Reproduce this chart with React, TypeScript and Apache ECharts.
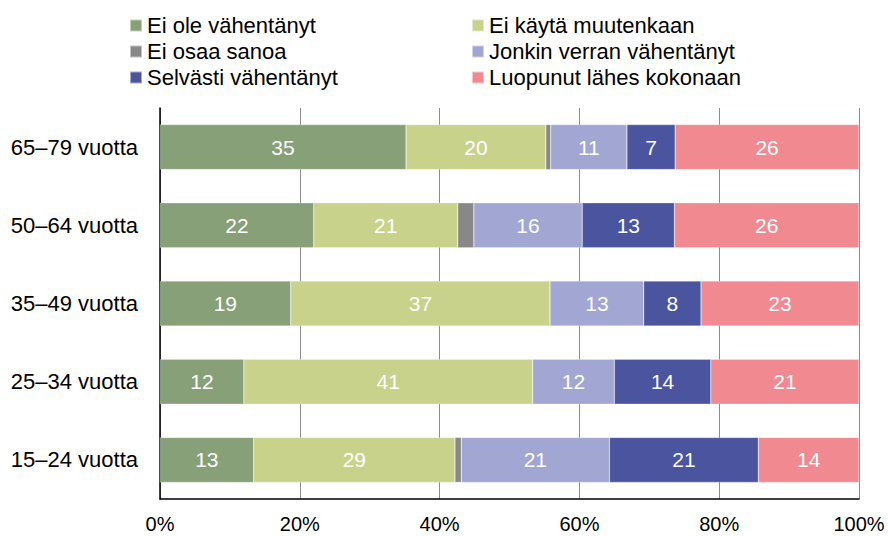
import React, { useEffect, useRef } from "react";
import * as echarts from "echarts";

const categories = ["15–24 vuotta", "25–34 vuotta", "35–49 vuotta", "50–64 vuotta", "65–79 vuotta"];
const seriesNames = [
  "Ei ole vähentänyt",
  "Ei käytä muutenkaan",
  "Ei osaa sanoa",
  "Jonkin verran vähentänyt",
  "Selvästi vähentänyt",
  "Luopunut lähes kokonaan",
];
const eiOleVahentanyt = [13.4, 12.0, 18.7, 22.0, 35.2];
const eiKaytaMuutenkaan = [28.8, 41.3, 37.1, 20.6, 20.0];
const eiOsaaSanoa = [0.9, 0, 0, 2.3, 0.7];
const jonkinVerranVahentanyt = [21.2, 11.7, 13.4, 15.5, 10.9];
const selvastiVahentanyt = [21.3, 13.8, 8.2, 13.2, 6.9];
const luopunutLahesKokonaan = [14.4, 21.2, 22.6, 26.4, 26.3];
const xTicks = [0, 20, 40, 60, 80, 100];

const seriesData = [
  eiOleVahentanyt,
  eiKaytaMuutenkaan,
  eiOsaaSanoa,
  jonkinVerranVahentanyt,
  selvastiVahentanyt,
  luopunutLahesKokonaan,
];
const colors = ["#87A077", "#C8D28A", "#888888", "#A2A6D2", "#4A549F", "#F08A90"];

export default function App() {
  const ref = useRef<HTMLDivElement>(null);
  useEffect(() => {
    if (!ref.current) return;
    const chart = echarts.init(ref.current, undefined, { renderer: "svg" });
    const font = "Liberation Sans, Arial, sans-serif";
    const legendBase = {
      orient: "vertical" as const,
      top: 9,
      itemWidth: 12,
      itemHeight: 12,
      itemGap: 3,
      icon: "rect",
      selectedMode: false,
      textStyle: { fontFamily: font, fontSize: 22, color: "#000", lineHeight: 23 },
    };
    chart.setOption({
      animation: false,
      color: colors,
      legend: [
        { ...legendBase, left: 124, data: [seriesNames[0], seriesNames[2], seriesNames[4]] },
        { ...legendBase, left: 466, data: [seriesNames[1], seriesNames[3], seriesNames[5]] },
      ],
      grid: { left: 160, right: 29, top: 108, bottom: 37, containLabel: false },
      xAxis: {
        type: "value",
        min: xTicks[0],
        max: xTicks[xTicks.length - 1],
        interval: 20,
        axisLine: { show: true, lineStyle: { color: "#000", width: 1.5 } },
        axisTick: { show: false },
        splitLine: { show: true, lineStyle: { color: "#8c8c8c", width: 1 } },
        axisLabel: {
          formatter: "{value}%",
          fontFamily: font,
          fontSize: 20,
          color: "#000",
          margin: 15,
        },
      },
      yAxis: {
        type: "category",
        data: categories,
        axisLine: { show: true, lineStyle: { color: "#000", width: 1.5 } },
        axisTick: { show: false },
        axisLabel: { fontFamily: font, fontSize: 22, color: "#000", margin: 22 },
      },
      series: seriesNames.map((name, i) => ({
        name,
        type: "bar",
        stack: "total",
        barWidth: 45,
        data: seriesData[i],
        itemStyle: { color: colors[i], borderColor: "rgba(255,255,255,0.5)", borderWidth: 0.5 },
        label: {
          show: i !== 2,
          position: "inside",
          color: "#fff",
          fontFamily: font,
          fontSize: 21,
          formatter: (p: any) => String(Math.round(p.value)),
        },
      })),
    });
    return () => chart.dispose();
  }, []);
  return (
    <div
      ref={ref}
      style={{ position: "absolute", left: 0, top: 0, width: 888, height: 536, background: "#fff" }}
    />
  );
}
